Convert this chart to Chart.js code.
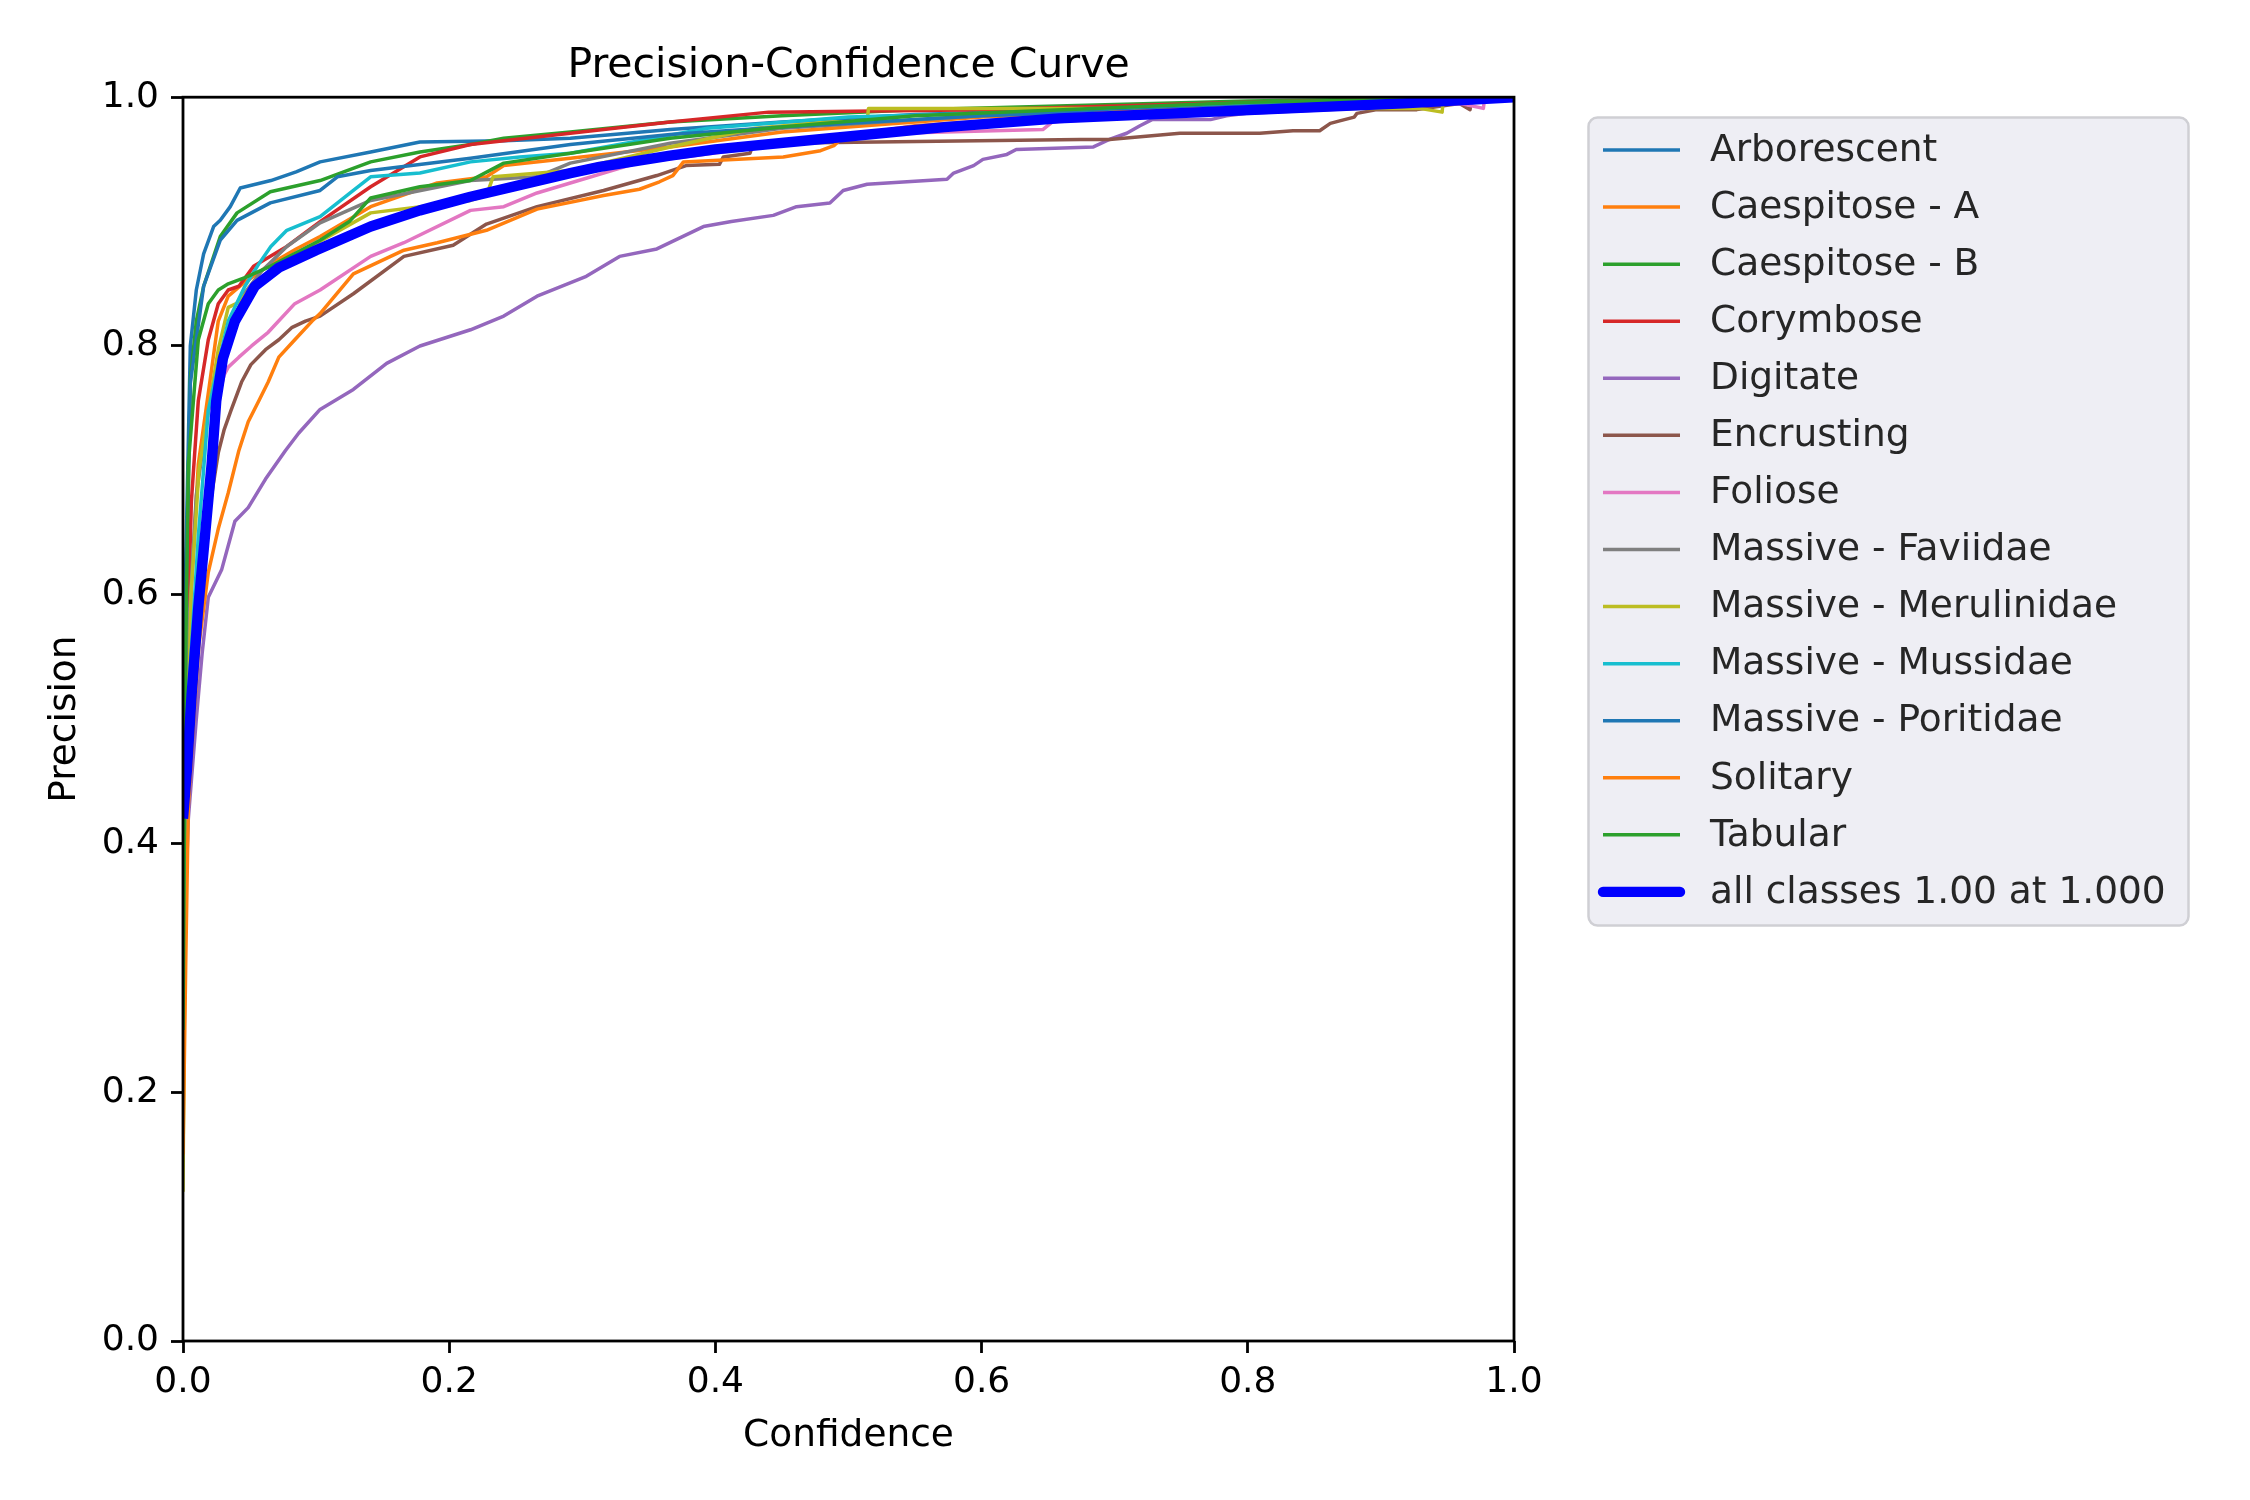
<!DOCTYPE html>
<html>
<head>
<meta charset="utf-8">
<script src="https://cdn.jsdelivr.net/npm/chart.js@4/dist/chart.umd.min.js"></script>
<style>
  html, body { margin: 0; padding: 0; background: #fff; }
  canvas { display: block; }
</style>
</head>
<body>
<canvas id="c" width="2250" height="1500"></canvas>
<script>
// precision vs confidence as [confidence, precision]
const arborescent = [[0,0.45],[0.002,0.62],[0.0055,0.80],[0.01,0.845],[0.0155,0.874],[0.023,0.896],[0.028,0.901],[0.0355,0.912],[0.043,0.927],[0.066,0.933],[0.085,0.94],[0.103,0.948],[0.141,0.956],[0.178,0.964],[0.241,0.965],[0.291,0.967],[0.366,0.974],[0.45,0.98],[0.55,0.986],[0.7,0.991],[0.85,0.995],[1,1]];
const caespitoseA = [[0,0.17],[0.002,0.40],[0.006,0.6],[0.0115,0.705],[0.019,0.762],[0.0265,0.82],[0.034,0.84],[0.045,0.85],[0.066,0.866],[0.085,0.878],[0.103,0.888],[0.141,0.912],[0.191,0.931],[0.228,0.936],[0.241,0.945],[0.291,0.951],[0.366,0.96],[0.45,0.972],[0.6,0.984],[0.8,0.993],[1,1]];
const caespitoseB = [[0,0.28],[0.002,0.55],[0.0055,0.773],[0.01,0.82],[0.0155,0.848],[0.028,0.888],[0.0406,0.907],[0.0656,0.924],[0.103,0.933],[0.141,0.948],[0.178,0.956],[0.216,0.962],[0.241,0.967],[0.291,0.972],[0.366,0.98],[0.45,0.985],[0.55,0.99],[0.8,0.997],[1,1]];
const corymbose = [[0,0.30],[0.003,0.55],[0.0063,0.675],[0.0115,0.756],[0.019,0.805],[0.0265,0.834],[0.034,0.845],[0.042,0.848],[0.053,0.864],[0.078,0.88],[0.103,0.90],[0.141,0.928],[0.178,0.952],[0.216,0.962],[0.291,0.971],[0.366,0.98],[0.44,0.988],[0.6,0.99],[0.8,0.996],[1,1]];
const digitate = [[0,0.3],[0.004,0.42],[0.01,0.5],[0.0144,0.553],[0.019,0.598],[0.029,0.62],[0.039,0.659],[0.049,0.67],[0.062,0.693],[0.077,0.716],[0.087,0.73],[0.103,0.749],[0.128,0.765],[0.153,0.786],[0.178,0.80],[0.216,0.813],[0.241,0.824],[0.266,0.84],[0.303,0.856],[0.328,0.872],[0.356,0.878],[0.391,0.896],[0.412,0.90],[0.4435,0.905],[0.461,0.912],[0.486,0.915],[0.496,0.925],[0.514,0.93],[0.574,0.934],[0.579,0.939],[0.594,0.945],[0.601,0.95],[0.619,0.954],[0.626,0.958],[0.684,0.96],[0.696,0.966],[0.709,0.971],[0.719,0.977],[0.728,0.982],[0.772,0.982],[0.784,0.985],[0.799,0.987],[0.9,0.992],[1,1]];
const encrusting = [[0,0.25],[0.003,0.45],[0.01,0.58],[0.02,0.67],[0.0265,0.714],[0.031,0.733],[0.036,0.748],[0.044,0.771],[0.051,0.785],[0.062,0.797],[0.072,0.805],[0.082,0.815],[0.092,0.82],[0.103,0.824],[0.128,0.842],[0.166,0.872],[0.203,0.881],[0.228,0.898],[0.266,0.912],[0.316,0.925],[0.356,0.937],[0.378,0.945],[0.403,0.946],[0.406,0.952],[0.426,0.955],[0.428,0.961],[0.444,0.963],[0.674,0.966],[0.696,0.966],[0.749,0.971],[0.809,0.971],[0.834,0.973],[0.854,0.973],[0.862,0.979],[0.869,0.981],[0.88,0.984],[0.882,0.987],[0.897,0.99],[0.927,0.99],[0.959,0.995],[0.967,0.99],[0.968,1],[1,1]];
const foliose = [[0,0.3],[0.003,0.45],[0.01,0.6],[0.02,0.7],[0.027,0.76],[0.031,0.777],[0.034,0.783],[0.042,0.791],[0.0515,0.80],[0.064,0.811],[0.084,0.834],[0.103,0.845],[0.141,0.872],[0.166,0.883],[0.216,0.909],[0.241,0.912],[0.266,0.923],[0.291,0.931],[0.341,0.947],[0.42,0.958],[0.504,0.971],[0.536,0.971],[0.646,0.974],[0.653,0.98],[0.8,0.99],[0.96,0.995],[0.977,0.991],[0.978,1],[1,1]];
const faviidae = [[0,0.35],[0.003,0.55],[0.01,0.68],[0.019,0.748],[0.03,0.8],[0.0465,0.843],[0.059,0.86],[0.078,0.88],[0.103,0.899],[0.141,0.917],[0.216,0.933],[0.266,0.936],[0.291,0.947],[0.366,0.963],[0.45,0.975],[0.6,0.985],[0.8,0.994],[1,1]];
const merulinidae = [[0,0.12],[0.002,0.4],[0.006,0.6],[0.012,0.7],[0.019,0.748],[0.0265,0.797],[0.034,0.831],[0.042,0.835],[0.053,0.849],[0.065,0.858],[0.074,0.862],[0.091,0.877],[0.141,0.907],[0.216,0.917],[0.228,0.921],[0.233,0.936],[0.291,0.941],[0.366,0.96],[0.43,0.975],[0.484,0.98],[0.514,0.98],[0.515,0.991],[0.929,0.991],[0.946,0.988],[0.947,1],[1,1]];
const mussidae = [[0,0.3],[0.003,0.5],[0.0115,0.647],[0.019,0.748],[0.0265,0.785],[0.034,0.82],[0.0465,0.848],[0.057,0.866],[0.066,0.88],[0.078,0.893],[0.103,0.904],[0.128,0.925],[0.141,0.936],[0.178,0.939],[0.216,0.948],[0.253,0.952],[0.291,0.955],[0.343,0.965],[0.394,0.975],[0.5,0.984],[0.7,0.99],[1,1]];
const poritidae = [[0,0.4],[0.002,0.6],[0.0055,0.77],[0.0155,0.848],[0.028,0.885],[0.0406,0.901],[0.0656,0.915],[0.103,0.925],[0.116,0.936],[0.141,0.941],[0.216,0.951],[0.291,0.962],[0.366,0.97],[0.45,0.976],[0.6,0.985],[0.8,0.993],[1,1]];
const solitary = [[0,0.15],[0.002,0.3],[0.004,0.43],[0.008,0.5],[0.012,0.56],[0.019,0.618],[0.0265,0.653],[0.034,0.682],[0.042,0.716],[0.049,0.739],[0.057,0.756],[0.064,0.771],[0.072,0.791],[0.084,0.805],[0.097,0.82],[0.103,0.826],[0.128,0.858],[0.166,0.877],[0.191,0.883],[0.228,0.893],[0.266,0.91],[0.316,0.921],[0.343,0.926],[0.358,0.932],[0.368,0.937],[0.376,0.948],[0.451,0.952],[0.479,0.957],[0.489,0.961],[0.494,0.966],[0.504,0.97],[0.55,0.977],[0.7,0.988],[0.85,0.994],[1,1]];
const tabular = [[0,0.25],[0.002,0.55],[0.004,0.705],[0.0115,0.805],[0.019,0.834],[0.0265,0.845],[0.034,0.85],[0.0465,0.855],[0.0656,0.864],[0.103,0.885],[0.125,0.9],[0.141,0.919],[0.178,0.928],[0.216,0.933],[0.241,0.947],[0.291,0.955],[0.366,0.967],[0.45,0.976],[0.55,0.985],[0.8,0.996],[1,1]];
const allClasses = [[0,0.42],[0.003,0.46],[0.0065,0.52],[0.0115,0.59],[0.0165,0.647],[0.0215,0.705],[0.025,0.756],[0.03,0.79],[0.039,0.82],[0.054,0.848],[0.072,0.863],[0.1,0.877],[0.141,0.896],[0.178,0.909],[0.216,0.92],[0.291,0.939],[0.313,0.944],[0.366,0.953],[0.4,0.958],[0.486,0.967],[0.572,0.976],[0.658,0.983],[0.745,0.987],[0.831,0.991],[0.917,0.995],[1,1]];

const classNames = ["Arborescent", "Caespitose - A", "Caespitose - B", "Corymbose", "Digitate", "Encrusting", "Foliose",
  "Massive - Faviidae", "Massive - Merulinidae", "Massive - Mussidae", "Massive - Poritidae", "Solitary", "Tabular"];
const classCurves = [arborescent, caespitoseA, caespitoseB, corymbose, digitate, encrusting, foliose,
  faviidae, merulinidae, mussidae, poritidae, solitary, tabular];
const allLabel = "all classes 1.00 at 1.000";
const tickValues = [0, 0.2, 0.4, 0.6, 0.8, 1.0];

const tab10 = ["#1f77b4", "#ff7f0e", "#2ca02c", "#d62728", "#9467bd", "#8c564b", "#e377c2", "#7f7f7f", "#bcbd22", "#17becf"];

const datasets = classCurves.map((curve, i) => ({
  label: classNames[i],
  data: curve.map(p => ({ x: p[0], y: p[1] })),
  borderColor: tab10[i % 10],
  borderWidth: 3.5,
  order: classCurves.length - i
}));
datasets.push({
  label: allLabel,
  data: allClasses.map(p => ({ x: p[0], y: p[1] })),
  borderColor: "#0000ff",
  borderWidth: 10.4,
  order: 0
});

const FONT = "DejaVu Sans";

// spines on all four sides + matplotlib-like legend box
const frameAndLegend = {
  id: "frameAndLegend",
  afterDatasetsDraw(chart) {
    const { ctx, chartArea: a } = chart;
    ctx.save();
    ctx.strokeStyle = "#000";
    ctx.lineWidth = 2.8;
    ctx.strokeRect(a.left, a.top, a.right - a.left, a.bottom - a.top);
    ctx.restore();
  },
  afterDraw(chart) {
    const ctx = chart.ctx;
    const ds = chart.data.datasets;
    ctx.save();
    ctx.beginPath();
    ctx.roundRect(1588.5, 117.5, 600, 808, 9);
    ctx.fillStyle = "rgb(238,238,244)";
    ctx.fill();
    ctx.strokeStyle = "#cfcfd4";
    ctx.lineWidth = 2.5;
    ctx.stroke();
    ctx.font = "37.5px '" + FONT + "'";
    ctx.textBaseline = "middle";
    ds.forEach((d, i) => {
      const y = 150 + i * 57.07;
      ctx.beginPath();
      ctx.moveTo(1603, y);
      ctx.lineTo(1680, y);
      ctx.strokeStyle = d.borderColor;
      ctx.lineWidth = d.borderWidth;
      ctx.lineCap = d.borderWidth > 5 ? "round" : "butt";
      ctx.stroke();
      ctx.fillStyle = "#262626";
      ctx.fillText(d.label, 1710, y + 1);
    });
    ctx.restore();
  }
};

const axisCommon = {
  type: "linear",
  min: 0,
  max: 1,
  border: { display: false },
  grid: { drawOnChartArea: false, drawTicks: true, tickLength: 12, tickWidth: 2.8, color: "#000" },
  afterBuildTicks(scale) { scale.ticks = tickValues.map(v => ({ value: v })); },
  ticks: {
    color: "#000",
    font: { family: FONT, size: 36 },
    callback: v => Number(v).toFixed(1)
  }
};

new Chart(document.getElementById("c"), {
  type: "line",
  data: { datasets },
  options: {
    responsive: false,
    devicePixelRatio: 1,
    animation: false,
    elements: {
      point: { radius: 0 },
      line: { tension: 0, borderJoinStyle: "round", fill: false }
    },
    layout: { padding: { left: 0, top: 0, right: 736, bottom: 0 } },
    plugins: {
      legend: { display: false },
      tooltip: { enabled: false },
      title: {
        display: true,
        fullSize: false,
        text: "Precision-Confidence Curve",
        color: "#000",
        font: { family: FONT, size: 41, weight: "normal" },
        padding: { top: 42, bottom: 6 }
      }
    },
    scales: {
      x: {
        ...axisCommon,
        position: "bottom",
        ticks: { ...axisCommon.ticks, padding: 8, maxRotation: 0 },
        title: { display: true, text: "Confidence", color: "#000", font: { family: FONT, size: 37.5 }, padding: { top: 0, bottom: 41 } },
        afterFit(scale) { scale.height = 159; }
      },
      y: {
        ...axisCommon,
        position: "left",
        ticks: { ...axisCommon.ticks, padding: 12 },
        title: { display: true, text: "Precision", color: "#000", font: { family: FONT, size: 37.5 }, padding: { top: 43, bottom: 0 } },
        afterFit(scale) { scale.width = 183; }
      }
    }
  },
  plugins: [frameAndLegend]
});
</script>
</body>
</html>
